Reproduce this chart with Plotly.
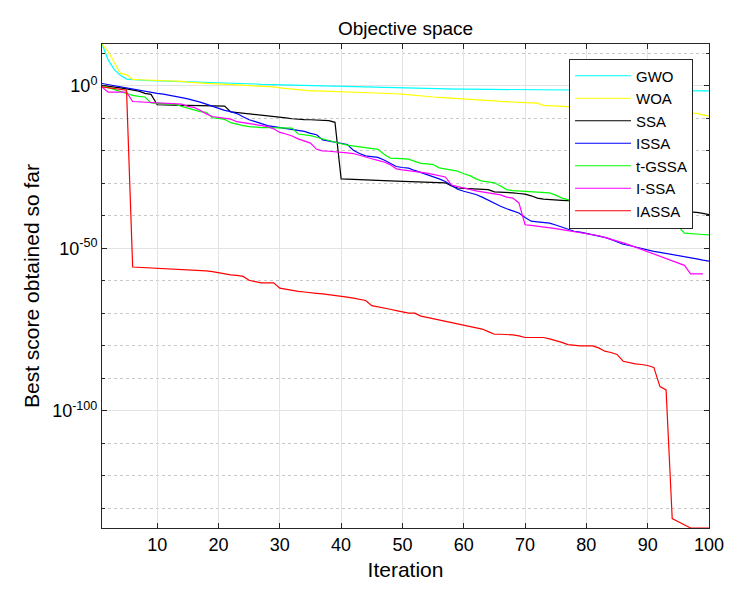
import plotly.graph_objects as go

# convergence curves, values are log10 of the best score per iteration
iterations = list(range(1, 101))

gwo_log = [12.9, 8.0, 5.0, 3.3, 2.1, 1.9, 1.8, 1.7, 1.65, 1.6,
           1.5, 1.45, 1.4, 1.3, 1.25, 1.2, 1.1, 1.05, 1.0, 0.95,
           0.9, 0.85, 0.8, 0.75, 0.7, 0.6, 0.5, 0.45, 0.4, 0.35,
           0.3, 0.2, 0.15, 0.1, 0.0, -0.05, -0.1, -0.15, -0.2, -0.25,
           -0.3, -0.35, -0.4, -0.45, -0.5, -0.55, -0.6, -0.65, -0.7, -0.75,
           -0.8, -0.82, -0.85, -0.88, -0.9, -0.92, -0.95, -0.98, -1.0, -1.0,
           -1.02, -1.04, -1.05, -1.07, -1.08, -1.1, -1.1, -1.12, -1.14, -1.15,
           -1.17, -1.18, -1.2, -1.2, -1.22, -1.24, -1.25, -1.27, -1.28, -1.3,
           -1.3, -1.32, -1.34, -1.35, -1.37, -1.38, -1.4, -1.4, -1.42, -1.43,
           -1.44, -1.45, -1.46, -1.47, -1.48, -1.49, -1.5, -1.5, -1.5, -1.5]

woa_log = [12.9, 10.6, 7.2, 3.85, 3.5, 2.0, 1.9, 1.85, 1.8, 1.75,
           1.7, 1.6, 1.5, 1.4, 1.2, 1.0, 0.9, 0.8, 0.7, 0.6,
           0.5, 0.4, 0.3, 0.2, 0.15, 0.05, 0.0, -0.1, -0.3, -0.6,
           -0.8, -1.0, -1.2, -1.4, -1.5, -1.55, -1.6, -1.7, -1.8, -1.9,
           -2.0, -2.05, -2.1, -2.15, -2.2, -2.25, -2.3, -2.35, -2.4, -2.5,
           -2.7, -3.0, -3.2, -3.3, -3.4, -3.5, -3.6, -3.7, -3.9, -4.0,
           -4.1, -4.2, -4.3, -4.4, -4.6, -4.75, -4.9, -5.0, -5.1, -5.15,
           -5.2, -5.3, -6.0, -6.1, -6.2, -6.3, -6.4, -6.5, -6.6, -6.7,
           -6.8, -6.9, -7.0, -7.1, -7.2, -7.3, -7.4, -7.5, -7.6, -7.7,
           -7.8, -7.9, -8.0, -8.1, -8.2, -8.3, -8.4, -8.45, -8.9, -9.3]

ssa_log = [0.2, 0.0, -0.3, -0.6, -0.9, -1.2, -1.6, -2.3, -2.6, -5.8,
           -5.9, -5.95, -6.0, -6.0, -6.0, -6.05, -6.1, -6.1, -6.1, -6.15,
           -6.2, -8.0, -8.2, -8.3, -8.4, -8.6, -8.8, -9.0, -9.2, -9.5,
           -9.8, -10.1, -10.3, -10.35, -10.4, -10.45, -10.5, -10.7, -11.2, -28.6,
           -28.65, -28.7, -28.75, -28.8, -28.9, -29.0, -29.1, -29.2, -29.3, -29.35,
           -29.4, -29.45, -29.5, -29.55, -29.6, -29.7, -29.8, -30.8, -31.4, -31.5,
           -31.6, -31.7, -31.8, -31.9, -32.6, -32.65, -32.7, -32.9, -33.1, -33.3,
           -33.8, -34.5, -34.8, -35.0, -35.1, -35.2, -35.3, -35.5, -35.7, -35.9,
           -36.1, -36.3, -36.5, -36.7, -36.9, -37.1, -37.3, -37.5, -37.7, -37.9,
           -38.0, -38.1, -38.2, -38.3, -38.4, -38.5, -38.7, -38.9, -39.2, -39.6]

issa_log = [0.75, 0.4, 0.0, -0.3, -0.6, -0.9, -1.2, -1.6, -2.0, -2.3,
            -2.5, -2.8, -3.2, -3.6, -4.0, -4.4, -5.0, -5.6, -6.3, -6.9,
            -7.5, -7.9, -8.5, -9.5, -10.4, -11.0, -11.6, -12.2, -12.5, -12.8,
            -13.1, -13.4, -13.7, -14.0, -14.6, -15.0, -16.6, -17.0, -17.3, -17.8,
            -18.0, -19.8, -20.8, -21.5, -21.8, -22.0, -22.8, -23.8, -24.8, -25.1,
            -25.3, -26.0, -26.6, -27.2, -27.9, -28.6, -29.4, -30.5, -31.8, -32.4,
            -32.9, -33.4, -34.2, -35.2, -36.2, -37.0, -37.8, -38.5, -39.1, -40.5,
            -41.6, -41.8, -42.0, -42.2, -42.8, -43.4, -44.0, -44.7, -45.0, -45.4,
            -45.7, -46.0, -46.6, -47.2, -47.9, -48.7, -49.1, -49.6, -50.1, -50.5,
            -50.9, -51.2, -51.5, -51.8, -52.1, -52.5, -52.9, -53.2, -53.6, -53.9]

tgssa_log = [0.1, -0.5, -1.0, -1.6, -2.4, -2.9, -3.2, -3.4, -5.2, -5.3,
             -5.4, -5.5, -5.7, -6.3, -6.8, -7.5, -7.9, -8.1, -9.8, -10.0,
             -10.3, -11.3, -11.8, -12.2, -12.5, -12.7, -12.8, -12.85, -12.9, -12.9,
             -12.95, -13.0, -14.8, -15.0, -15.3, -15.8, -16.3, -17.0, -17.4, -17.8,
             -18.2, -18.5, -18.8, -19.1, -19.3, -19.5, -21.0, -22.2, -22.3, -22.4,
             -22.5, -23.2, -23.8, -24.0, -24.2, -25.2, -25.5, -25.9, -26.2, -27.0,
             -27.6, -28.6, -29.3, -29.5, -29.8, -30.8, -31.9, -32.2, -32.3, -32.5,
             -32.6, -32.7, -32.8, -32.9, -33.6, -34.5, -35.0, -35.5, -36.0, -36.5,
             -37.0, -37.5, -38.0, -38.5, -39.0, -39.5, -40.0, -40.5, -41.0, -41.5,
             -42.0, -42.5, -42.9, -43.1, -43.3, -45.3, -45.5, -45.6, -45.7, -45.8]

issa2_log = [-0.3, -1.9, -1.9, -1.9, -1.9, -4.8, -4.9, -5.0, -5.1, -5.2,
             -5.4, -5.5, -5.5, -5.6, -6.3, -6.6, -7.5, -8.6, -9.4, -9.7,
             -9.9, -10.2, -11.0, -11.3, -11.5, -11.7, -12.1, -12.5, -13.2, -14.3,
             -14.8, -15.4, -16.3, -16.9, -17.6, -19.5, -20.0, -20.1, -20.2, -20.4,
             -20.6, -20.8, -21.4, -22.0, -22.4, -22.9, -23.4, -24.2, -25.5, -25.8,
             -26.0, -26.2, -26.5, -26.8, -27.2, -27.5, -28.0, -30.5, -31.0, -31.5,
             -32.0, -32.3, -32.6, -32.9, -33.2, -33.5, -34.2, -34.5, -36.0, -42.7,
             -42.9, -43.1, -43.3, -43.6, -43.9, -44.2, -44.5, -44.8, -45.0, -45.3,
             -45.7, -46.1, -46.6, -47.1, -47.7, -48.3, -48.9, -49.6, -50.3, -51.0,
             -51.8, -52.6, -53.2, -53.8, -54.5, -55.2, -57.8, -57.8, -57.8, None]

iassa_log = [-0.3, -0.6, -0.8, -1.1, -1.3, -55.7, -55.8, -55.9, -55.95, -56.0,
             -56.1, -56.15, -56.2, -56.3, -56.4, -56.5, -56.7, -56.9, -57.1, -57.5,
             -57.8, -58.1, -58.3, -58.6, -59.8, -60.3, -60.6, -60.6, -60.6, -62.2,
             -62.6, -62.9, -63.2, -63.4, -63.7, -63.8, -64.0, -64.2, -64.4, -64.7,
             -65.0, -65.3, -65.6, -66.0, -67.6, -67.9, -68.3, -68.7, -69.1, -69.5,
             -69.9, -69.9, -70.8, -71.2, -71.6, -72.0, -72.5, -73.0, -73.4, -73.8,
             -74.2, -74.6, -74.8, -75.6, -76.4, -76.4, -76.4, -76.6, -76.9, -77.4,
             -77.4, -77.4, -77.4, -77.8, -78.3, -78.9, -79.6, -79.9, -80.0, -80.0,
             -80.0, -80.6, -81.6, -82.0, -82.6, -84.7, -85.2, -85.5, -85.7, -86.0,
             -86.6, -92.5, -93.5, -133.1, -134.1, -135.1, -136.0, -136.0, -136.0, -136.0]

names = ["GWO", "WOA", "SSA", "ISSA", "t-GSSA", "I-SSA", "IASSA"]
colors = ["#00ffff", "#ffff00", "#000000", "#0000ff", "#00ff00", "#ff00ff", "#ff0000"]
curves = [gwo_log, woa_log, ssa_log, issa_log, tgssa_log, issa2_log, iassa_log]

major_exp = [0, -50, -100]
minor_exp = [10, -10, -20, -30, -40, -60, -70, -80, -90, -110, -120, -130]

fig = go.Figure()
for name, logs, color in zip(names, curves, colors):
    fig.add_trace(go.Scatter(
        x=iterations,
        y=[None if v is None else 10.0 ** v for v in logs],
        mode="lines",
        name=name,
        line=dict(color=color, width=1.2),
    ))

# the page body adds an 8px offset, so the figure is 8px smaller each way
W, H = 728, 581
axis_col = "#262626"
fig.update_layout(
    width=W, height=H,
    margin=dict(l=94, r=18, t=36, b=60),
    paper_bgcolor="white",
    plot_bgcolor="white",
    font=dict(family="Liberation Sans, Arial, sans-serif", color=axis_col, size=17),
    title=dict(text="Objective space", x=0.5, xref="paper", xanchor="center",
               y=1 - 20 / H, yanchor="middle",
               font=dict(size=19, color="black")),
    showlegend=True,
    legend=dict(x=0.9737, y=0.970, xanchor="right", yanchor="top",
                bgcolor="white", bordercolor=axis_col, borderwidth=1,
                font=dict(size=15, color="black"), itemwidth=56,
                tracegroupgap=0),
)

fig.update_xaxes(
    range=[1, 100],
    tickvals=list(range(10, 101, 10)),
    ticks="inside", ticklen=5, tickcolor=axis_col,
    showline=True, linecolor=axis_col, linewidth=1, mirror="ticks",
    showgrid=True, gridcolor="#e3e3e3", gridwidth=1,
    zeroline=False,
    tickfont=dict(size=18, color="black"),
    title=dict(text="Iteration", font=dict(size=21, color="black"), standoff=8),
)

fig.update_yaxes(
    type="log",
    range=[-136.0, 12.9],
    tickvals=[10.0 ** e for e in major_exp],
    ticktext=["10<sup>%d</sup>" % e for e in major_exp],
    ticks="inside", ticklen=5, tickcolor=axis_col,
    showline=True, linecolor=axis_col, linewidth=1, mirror="ticks",
    showgrid=True, gridcolor="#e3e3e3", gridwidth=1,
    minor=dict(tickvals=[10.0 ** e for e in minor_exp], ticks="inside", ticklen=3,
               tickcolor=axis_col, showgrid=True, griddash="dot",
               gridcolor="#c8c8c8", gridwidth=1),
    zeroline=False,
    tickfont=dict(size=18, color="black"),
    title=dict(text="Best score obtained so far", font=dict(size=21, color="black"),
               standoff=6),
)

fig.write_html("out.html")
